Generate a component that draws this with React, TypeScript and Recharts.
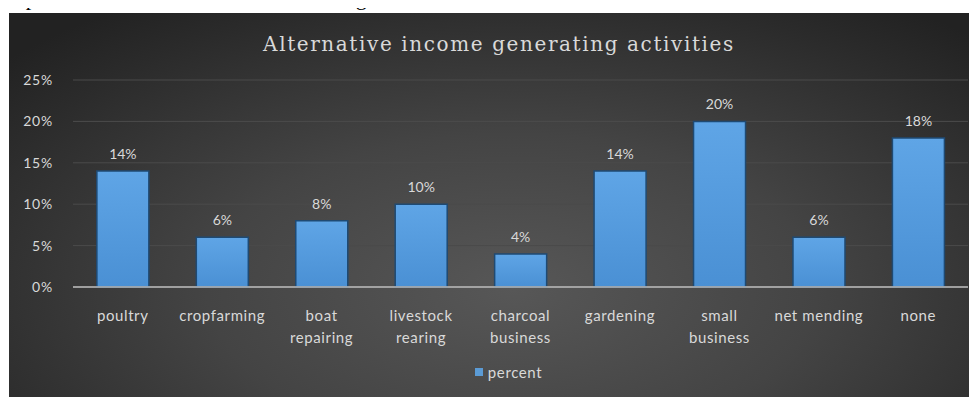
import React from "react";
import {
  BarChart,
  Bar,
  XAxis,
  YAxis,
  CartesianGrid,
  Legend,
  LabelList,
} from "recharts";

// Activity categories (line breaks mark where the axis label wraps)
const categories = [
  "poultry",
  "cropfarming",
  "boat\nrepairing",
  "livestock\nrearing",
  "charcoal\nbusiness",
  "gardening",
  "small\nbusiness",
  "net mending",
  "none",
];

// Share of respondents per activity, in percent
const percent = [14, 6, 8, 10, 4, 14, 20, 6, 18];

const yTicks = [0, 5, 10, 15, 20, 25];

const data = categories.map((name, i) => ({ name, percent: percent[i] }));

const TEXT = "#d9d9d9";
const FONT = "Lato, 'Open Sans', sans-serif";

const CategoryTick = (props: any) => {
  const { x, y, payload } = props;
  const lines = String(payload.value).split("\n");
  return (
    <g transform={`translate(${x},${y})`}>
      {lines.map((line: string, i: number) => (
        <text
          key={i}
          x={0}
          y={i * 22}
          dy={26}
          textAnchor="middle"
          fill={TEXT}
          fontSize={15}
          letterSpacing={0.6}
          fontFamily={FONT}
        >
          {line}
        </text>
      ))}
    </g>
  );
};

const LegendContent = () => (
  <div
    style={{
      display: "flex",
      alignItems: "center",
      justifyContent: "center",
      paddingLeft: 40,
      fontFamily: FONT,
      fontSize: 15,
      letterSpacing: 0.6,
      color: TEXT,
    }}
  >
    <span
      style={{
        display: "inline-block",
        width: 8,
        height: 8,
        background: "#5b9bd5",
        marginRight: 5,
      }}
    />
    percent
  </div>
);

export default function App() {
  return (
    <div
      style={{
        position: "relative",
        width: 977,
        height: 397,
        margin: "-8px 0 0 -8px",
        background: "#ffffff",
        overflow: "hidden",
      }}
    >
      <div
        style={{
          position: "absolute",
          left: 0,
          top: -15,
          fontFamily: "'Liberation Serif', 'DejaVu Serif', serif",
          fontSize: 22,
          color: "#000",
          whiteSpace: "nowrap",
        }}
      >
        respondents' alternative sources of average income
      </div>
      <div
        style={{
          position: "absolute",
          left: 9,
          top: 13,
          width: 968,
          height: 384,
          background:
            "radial-gradient(ellipse 70% 90% at 52% 72%, #575757 0%, #444444 45%, #2b2b2b 85%, #222222 100%)",
        }}
      >
        <div
          style={{
            position: "absolute",
            left: 0,
            top: 19,
            width: 980,
            textAlign: "center",
            fontFamily: "'DejaVu Serif', 'Liberation Serif', serif",
            fontSize: 20,
            letterSpacing: 1.6,
            color: TEXT,
          }}
        >
          Alternative income generating activities
        </div>
        <BarChart
          width={968}
          height={384}
          data={data}
          margin={{ top: 67, right: 9, bottom: 8, left: 0 }}
          barCategoryGap="24%"
          style={{ position: "absolute", left: 0, top: 0 }}
        >
          <defs>
            <linearGradient id="barFill" x1="0" y1="0" x2="0" y2="1">
              <stop offset="0%" stopColor="#5fa5e6" />
              <stop offset="100%" stopColor="#4a90d4" />
            </linearGradient>
          </defs>
          <CartesianGrid vertical={false} stroke="#4b4b4b" strokeWidth={1} />
          <XAxis
            dataKey="name"
            interval={0}
            height={76}
            tickLine={false}
            axisLine={{ stroke: "#bfbfbf", strokeWidth: 1.5 }}
            tick={<CategoryTick />}
          />
          <YAxis
            width={64}
            domain={[0, 25]}
            ticks={yTicks}
            interval={0}
            tickLine={false}
            axisLine={false}
            tickMargin={14}
            tickFormatter={(v: number) => `${v}%`}
            tick={{ fill: TEXT, fontSize: 14, fontFamily: FONT, letterSpacing: 0.8 }}
          />
          <Legend verticalAlign="bottom" height={26} content={<LegendContent />} />
          <Bar
            dataKey="percent"
            fill="url(#barFill)"
            stroke="#1f4a73"
            strokeWidth={1.5}
            isAnimationActive={false}
          >
            <LabelList
              dataKey="percent"
              position="top"
              offset={12}
              formatter={(v: number) => `${v}%`}
              fill={TEXT}
              fontSize={14}
              fontFamily={FONT}
            />
          </Bar>
        </BarChart>
      </div>
    </div>
  );
}
